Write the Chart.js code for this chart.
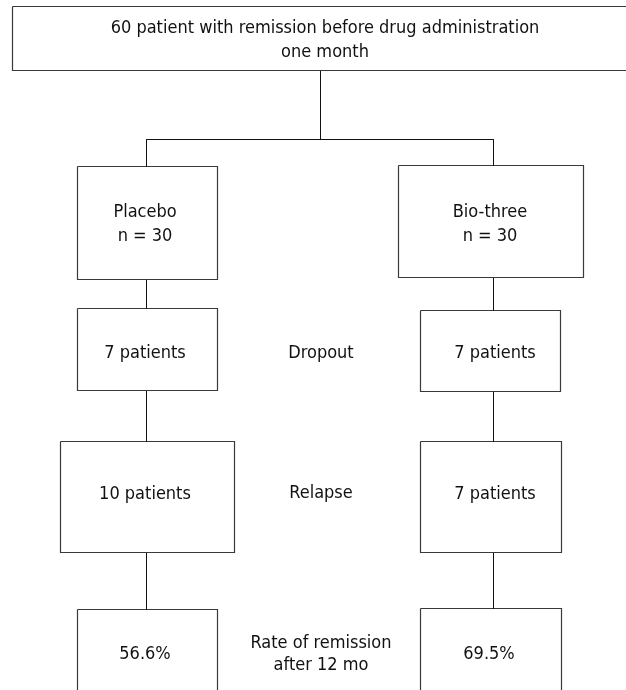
<!DOCTYPE html>
<html>
<head>
<meta charset="utf-8">
<script src="https://cdn.jsdelivr.net/npm/chart.js@4.4.1/dist/chart.umd.min.js"></script>
<style>
  html, body { margin: 0; padding: 0; background: #ffffff; }
  #wrap { width: 626px; height: 690px; }
</style>
</head>
<body>
<div id="wrap"><canvas id="c" width="626" height="690"></canvas></div>
<script>
// ---- data ----
const enrolmentLabel = ['60 patient with remission before drug administration', 'one month'];
const groups = ['Placebo', 'Bio-three'];
const groupN = [30, 30];
const dropoutPatients = [7, 7];
const relapsePatients = [10, 7];
const remissionRates = [56.6, 69.5];
const stageLabels = [['Dropout'], ['Relapse'], ['Rate of remission', 'after 12 mo']];

// ---- layout (diagram units on the chart's x/y scales) ----
const layout = {
  top: { x0: 12, x1: 660, y0: 6, y1: 70, textX: 325, textY: [28, 52] },
  trunkX: 320,
  branchY: 139,
  columns: [
    { lineX: 146, textX: [145, 145, 145, 145],
      boxes: [[77, 217, 166, 279], [77, 217, 308, 390], [60, 234, 441, 552], [77, 217, 609, 700]] },
    { lineX: 493, textX: [490, 495, 495, 489],
      boxes: [[398, 583, 165, 277], [420, 560, 310, 391], [420, 561, 441, 552], [420, 561, 608, 700]] }
  ],
  boxTextY: [[212, 236], [353], [494], [654]],
  stageX: 321,
  stageY: [[353], [493], [643, 665]]
};
const style = {
  textColor: '#111111',
  boxColor: '#3a3a3a',
  lineColor: '#111111'
};

// pick a Tahoma-like face: condensed DejaVu if installed, else regular DejaVu sized to the same width
(function chooseFont() {
  const m = document.createElement('canvas').getContext('2d');
  const probe = enrolmentLabel[0];
  m.font = '18px "DejaVu Sans"';
  const wReg = m.measureText(probe).width;
  m.font = '18px "DejaVu Sans Condensed", "DejaVu Sans"';
  const wCond = m.measureText(probe).width;
  style.font = (wCond < wReg * 0.97) ? '18px "DejaVu Sans Condensed", "DejaVu Sans"' : '16.3px "DejaVu Sans", sans-serif';
})();

// ---- build datasets ----
const px = v => Math.round(v) + 0.5;
const rect = (x0, x1, y0, y1) => [
  { x: px(x0), y: px(y0) }, { x: px(x1), y: px(y0) }, { x: px(x1), y: px(y1) },
  { x: px(x0), y: px(y1) }, { x: px(x0), y: px(y0) }
];
const seg = (a, b) => [{ x: px(a[0]), y: px(a[1]) }, { x: px(b[0]), y: px(b[1]) }];

const datasets = [];
function addLine(data, color, width) {
  datasets.push({ data, showLine: true, borderColor: color, borderWidth: width,
    pointRadius: 0, fill: false, tension: 0, clip: false });
}
const T = layout.top;
addLine(rect(T.x0, T.x1, T.y0, T.y1), style.boxColor, 1.2);
addLine(seg([layout.trunkX, T.y1], [layout.trunkX, layout.branchY]), style.lineColor, 1);
addLine(seg([layout.columns[0].lineX, layout.branchY], [layout.columns[1].lineX, layout.branchY]), style.lineColor, 1);

const boxTexts = [];
groups.forEach((g, i) => {
  const col = layout.columns[i];
  const labels = [
    [g, 'n = ' + groupN[i]],
    [dropoutPatients[i] + ' patients'],
    [relapsePatients[i] + ' patients'],
    [remissionRates[i].toFixed(1) + '%']
  ];
  let prevY = layout.branchY;
  col.boxes.forEach((b, k) => {
    addLine(seg([col.lineX, prevY], [col.lineX, b[2]]), style.lineColor, 1);
    addLine(rect(b[0], b[1], b[2], b[3]), style.boxColor, 1.2);
    prevY = b[3];
    labels[k].forEach((t, j) => boxTexts.push({ t, x: col.textX[k], y: layout.boxTextY[k][j] }));
  });
});
enrolmentLabel.forEach((t, j) => boxTexts.push({ t, x: T.textX, y: T.textY[j] }));
stageLabels.forEach((lines, k) => lines.forEach((t, j) => boxTexts.push({ t, x: layout.stageX, y: layout.stageY[k][j] })));

const textPlugin = {
  id: 'flowText',
  afterDatasetsDraw(chart) {
    const { ctx, scales: { x, y } } = chart;
    ctx.save();
    ctx.font = style.font;
    ctx.fillStyle = style.textColor;
    ctx.textAlign = 'center';
    ctx.textBaseline = 'middle';
    boxTexts.forEach(o => ctx.fillText(o.t, x.getPixelForValue(o.x), y.getPixelForValue(o.y)));
    ctx.restore();
  }
};

new Chart(document.getElementById('c'), {
  type: 'scatter',
  data: { datasets },
  options: {
    responsive: false,
    animation: false,
    layout: { padding: 0 },
    plugins: { legend: { display: false }, tooltip: { enabled: false }, title: { display: false } },
    scales: {
      x: { type: 'linear', min: 0, max: 626, display: false },
      y: { type: 'linear', min: 0, max: 690, reverse: true, display: false }
    }
  },
  plugins: [textPlugin]
});
</script>
</body>
</html>
